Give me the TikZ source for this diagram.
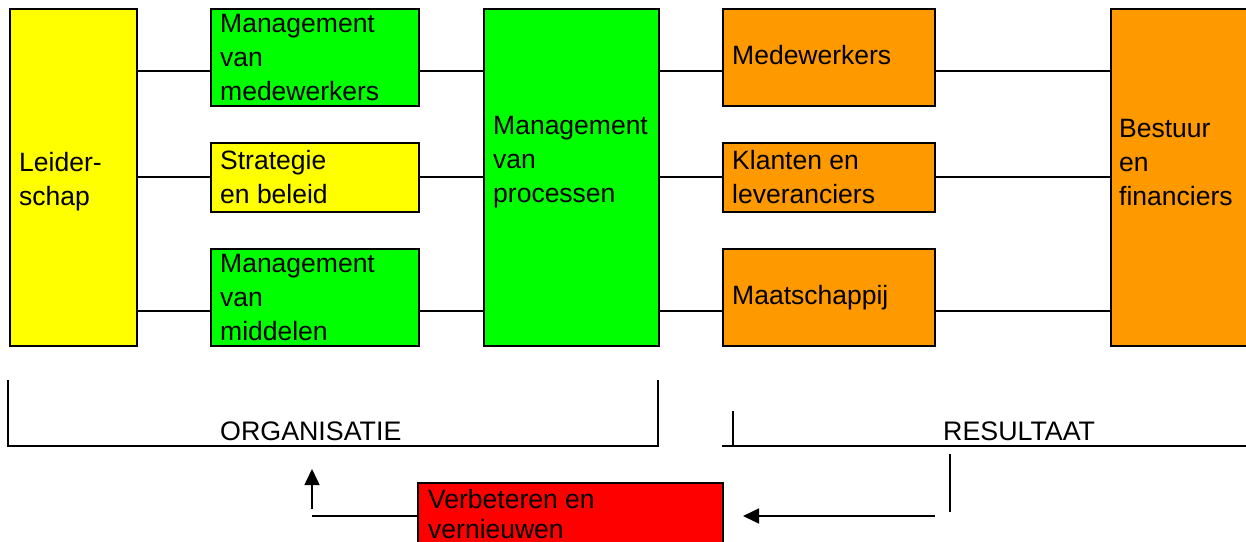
\documentclass[tikz,border=0pt]{standalone}
\usepackage{fontspec}
\setmainfont{Liberation Sans}
\usetikzlibrary{arrows.meta,calc}
\definecolor{YellowClr}{rgb}{1,1,0}
\definecolor{GreenClr}{rgb}{0,1,0}
\definecolor{OrangeClr}{rgb}{1,0.6,0}
\definecolor{RedClr}{rgb}{1,0,0}

\begin{document}
\begin{tikzpicture}[x=1pt,y=-1pt,
  box/.style={draw=black,line width=2pt,anchor=north west,inner sep=0pt},
  txt/.style={anchor=west,align=left,inner sep=0pt,font=\fontsize{26.5}{34}\selectfont},
  lbl/.style={anchor=base west,inner sep=0pt,font=\fontsize{26.8}{30}\selectfont},
  link/.style={line width=1.8pt},
  rule/.style={line width=1.6pt},
  tip/.style={-{Triangle[length=16pt,width=15pt]}}]
\useasboundingbox (0,0) rectangle (1246,541);

% boxes
\node[box,fill=YellowClr,minimum width=127pt,minimum height=337pt] (lead) at (9,8) {};
\node[box,fill=GreenClr,minimum width=208pt,minimum height=97pt] (mvm) at (210,8) {};
\node[box,fill=YellowClr,minimum width=208pt,minimum height=69pt] (sb) at (210,142) {};
\node[box,fill=GreenClr,minimum width=208pt,minimum height=97pt] (mmi) at (210,248) {};
\node[box,fill=GreenClr,minimum width=175pt,minimum height=337pt] (proc) at (483,8) {};
\node[box,fill=OrangeClr,minimum width=212pt,minimum height=97pt] (med) at (722,8) {};
\node[box,fill=OrangeClr,minimum width=212pt,minimum height=69pt] (kl) at (722,142) {};
\node[box,fill=OrangeClr,minimum width=212pt,minimum height=97pt] (maa) at (722,248) {};
\node[box,fill=OrangeClr,minimum width=150pt,minimum height=337pt] (best) at (1110,8) {};
\node[box,fill=RedClr,minimum width=305pt,minimum height=80pt] (verb) at (417,482) {};

% texts
\node[txt] (lead-t) at ([xshift=10pt,yshift=-4pt]lead.west) {Leider-\\schap};
\node[txt] (mvm-t) at ([xshift=10pt]mvm.west) {Management\\van\\medewerkers};
\node[txt] (sb-t) at ([xshift=10pt]sb.west) {Strategie\\en beleid};
\node[txt] (mmi-t) at ([xshift=10pt]mmi.west) {Management\\van\\middelen};
\node[txt] (proc-t) at ([xshift=10pt,yshift=15pt]proc.west) {Management\\van\\processen};
\node[txt] (med-t) at ([xshift=10pt,yshift=2pt]med.west) {Medewerkers};
\node[txt] (kl-t) at ([xshift=10pt]kl.west) {Klanten en\\leveranciers};
\node[txt] (maa-t) at ([xshift=10pt]maa.west) {Maatschappij};
\node[txt] (best-t) at ([xshift=9pt,yshift=15pt]best.west) {Bestuur\\en\\financiers};
\node[txt,anchor=north west,font=\fontsize{26.5}{30}\selectfont] (verb-t)
  at ([xshift=11pt,yshift=-7pt]verb.north west) {Verbeteren en\\vernieuwen};

\node[lbl] (org) at (220,440) {ORGANISATIE};
\node[lbl] (res) at (943,440) {RESULTAAT};

% connectors
\coordinate (r1) at (0,71);
\coordinate (r2) at (0,177);
\coordinate (r3) at (0,311);
\foreach \row/\a/\b in {r1/mvm/med,r2/sb/kl,r3/mmi/maa}{
  \draw[link] (lead.east |- \row) -- (\a.west |- \row);
  \draw[link] (\a.east |- \row) -- (proc.west |- \row);
  \draw[link] (proc.east |- \row) -- (\b.west |- \row);
  \draw[link] (\b.east |- \row) -- (best.west |- \row);
}

% brackets
\coordinate (org-a) at (8,380);
\coordinate (org-b) at (8,446);
\coordinate (org-c) at (658,446);
\coordinate (org-d) at (658,380);
\draw[rule] (org-a) -- (org-b) -- (org-c) -- (org-d);

\coordinate (res-a) at (722,446);
\coordinate (res-b) at (922,446);
\coordinate (res-c) at (1252,446);
\coordinate (res-d) at (733,411);
\draw[rule] (res-a) -- (res-c);
\draw[line width=2.5pt] (res-a) -- (res-b);
\draw[rule] (res-d) -- (res-d |- res-a);

% feedback
\coordinate (fb-a) at (950,454);
\coordinate (fb-b) at (950,512);
\coordinate (fb-c) at (935,516);
\coordinate (fb-d) at (743,516);
\coordinate (fb-e) at (312,516);
\coordinate (fb-f) at (312,509);
\coordinate (fb-g) at (312,469);
\draw[rule] (fb-a) -- (fb-b);
\draw[rule,tip] (fb-c) -- (fb-d);
\draw[rule] (verb.west |- fb-e) -- (fb-e);
\draw[rule,tip] (fb-f) -- (fb-g);

\end{tikzpicture}
\end{document}
